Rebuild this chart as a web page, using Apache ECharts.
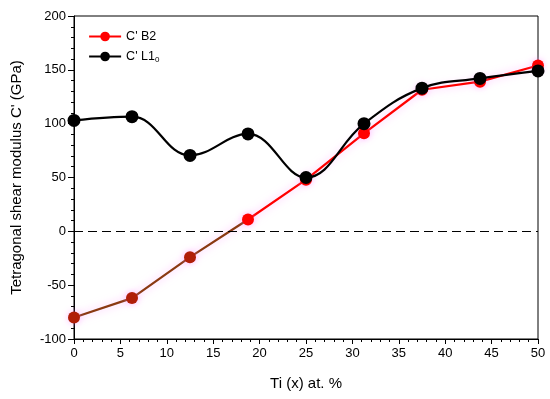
<!DOCTYPE html>
<html>
<head>
<meta charset="utf-8">
<script src="https://cdn.jsdelivr.net/npm/echarts@6/dist/echarts.min.js"></script>
<style>html,body{margin:0;padding:0;background:#fff}#c{width:550px;height:399px}</style>
</head>
<body>
<div id="c"></div>
<script>
var tiPercent = [0, 6.25, 12.5, 18.75, 25, 31.25, 37.5, 43.75, 50];
var cB2 = [-80, -62, -24, 11, 48, 91, 131.5, 139, 154];
var cL10 = [103, 106.5, 70.5, 90.5, 50, 100, 133, 142, 149];
var xTicks = [0, 5, 10, 15, 20, 25, 30, 35, 40, 45, 50];
var yTicks = [-100, -50, 0, 50, 100, 150, 200];

var font = 'Liberation Sans, Arial, sans-serif';
function pairs(xs, ys) { return xs.map(function (x, i) { return [x, ys[i]]; }); }

var chart = echarts.init(document.getElementById('c'));
chart.setOption({
  animation: false,
  grid: { left: 74, right: 12, top: 16, bottom: 60, show: true, borderColor: '#000', borderWidth: 1 },
  legend: {
    orient: 'vertical', left: 83, top: 25, itemWidth: 32, itemHeight: 12, itemGap: 7,
    textStyle: { fontFamily: font, fontSize: 12.5, color: '#000',
      rich: { sub: { fontFamily: font, fontSize: 8, color: '#000', verticalAlign: 'bottom', padding: [6, 0, 0, 0] } } },
    formatter: function (n) { return n === "C' L10" ? "C' L1{sub|0}" : n; },
    data: [
      { name: "C' B2", itemStyle: { color: '#ff0000' }, lineStyle: { color: '#ff0000', width: 2.2 } },
      { name: "C' L10", itemStyle: { color: '#000' }, lineStyle: { color: '#000', width: 2.2 } }
    ]
  },
  xAxis: {
    type: 'value', min: xTicks[0], max: xTicks[xTicks.length - 1], interval: 5,
    name: 'Ti (x) at. %', nameLocation: 'middle', nameGap: 37,
    nameTextStyle: { fontFamily: font, fontSize: 15, color: '#000' },
    axisLine: { onZero: false, lineStyle: { color: '#000', width: 1 } },
    axisTick: { show: true, length: 5, lineStyle: { color: '#000' } },
    minorTick: { show: true, splitNumber: 5, length: 3, lineStyle: { color: '#000' } },
    axisLabel: { fontFamily: font, fontSize: 13, color: '#000', margin: 8 },
    splitLine: { show: false }
  },
  yAxis: {
    type: 'value', min: yTicks[0], max: yTicks[yTicks.length - 1], interval: 50,
    name: "Tetragonal shear modulus C' (GPa)", nameLocation: 'middle', nameGap: 50,
    nameTextStyle: { fontFamily: font, fontSize: 15, color: '#000' },
    axisLine: { onZero: false, lineStyle: { color: '#000', width: 1 } },
    axisTick: { show: true, length: 6, lineStyle: { color: '#000' } },
    minorTick: { show: true, splitNumber: 5, length: 3, lineStyle: { color: '#000' } },
    axisLabel: { fontFamily: font, fontSize: 13, color: '#000', margin: 8 },
    splitLine: { show: false }
  },
  series: [
    {
      name: "C' B2", type: 'line', data: pairs(tiPercent, cB2),
      symbol: 'circle', symbolSize: 12, z: 2,
      lineStyle: {
        width: 2.2,
        color: new echarts.graphic.LinearGradient(0, 0, 1, 0, [
          { offset: 0, color: '#8a3a12' }, { offset: 0.375, color: '#8a3a12' },
          { offset: 0.375, color: '#ff0000' }, { offset: 1, color: '#ff0000' }
        ]),
        shadowColor: 'rgba(255,120,255,0.55)', shadowBlur: 8
      },
      itemStyle: {
        color: function (p) { return p.dataIndex < 3 ? '#b01e08' : '#ff0000'; },
        shadowColor: 'rgba(255,120,255,0.5)', shadowBlur: 6
      },
      markLine: {
        silent: true, symbol: 'none', label: { show: false },
        lineStyle: { color: '#000', type: [9, 5], width: 1.2 },
        data: [{ yAxis: 0 }]
      }
    },
    {
      name: "C' L10", type: 'line', data: pairs(tiPercent, cL10),
      symbol: 'circle', symbolSize: 13, smooth: 0.4, z: 3,
      lineStyle: { width: 2.2, color: '#000' },
      itemStyle: { color: '#000' }
    }
  ]
});
</script>
</body>
</html>
